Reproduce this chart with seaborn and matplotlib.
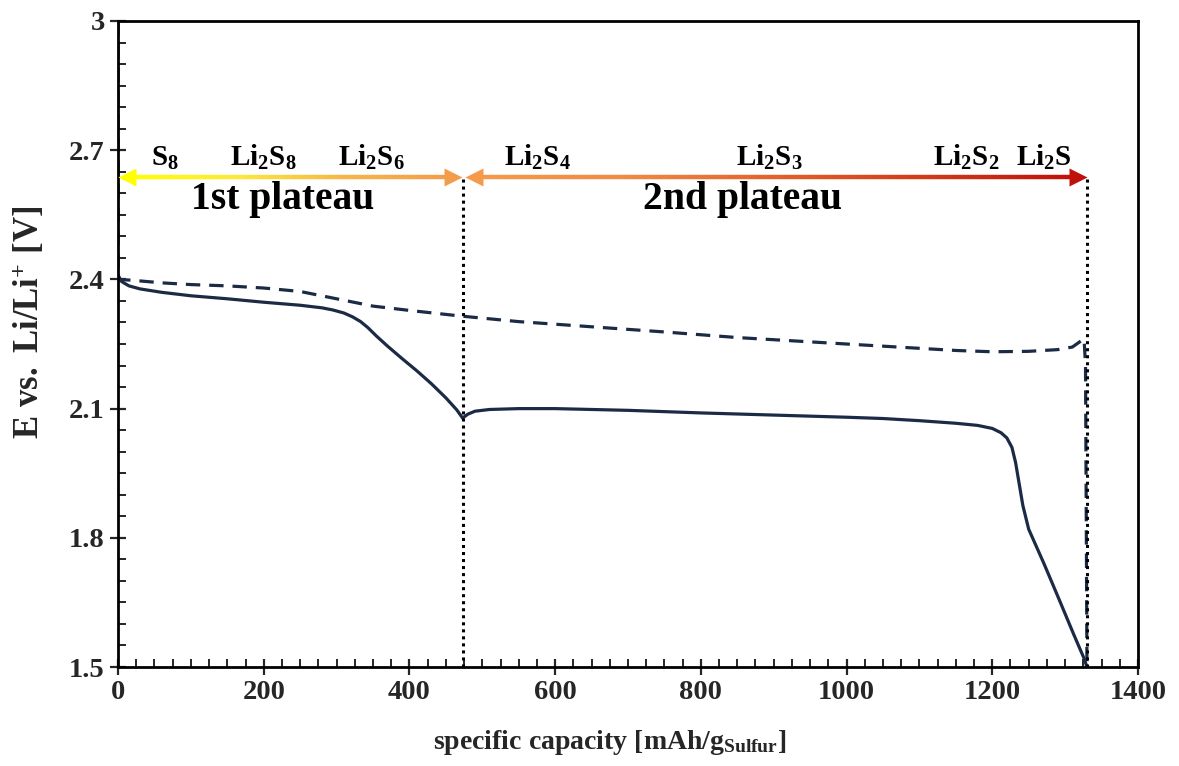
import numpy as np
import pandas as pd
import matplotlib
matplotlib.use("Agg")
import matplotlib.pyplot as plt
from matplotlib.collections import LineCollection
from matplotlib.colors import LinearSegmentedColormap
from matplotlib.ticker import MultipleLocator
import seaborn as sns

# Discharge curve (capacity in mAh/g_S, potential in V)
discharge_cap = [0, 5, 15, 30, 60, 100, 150, 200, 250, 280, 295, 310, 322, 333,
                 343, 355, 370, 390, 410, 430, 450, 465, 473, 480, 490, 510, 550,
                 600, 700, 800, 900, 1000, 1050, 1100, 1150, 1180, 1200, 1212,
                 1220, 1227, 1232, 1236, 1242, 1250, 1271, 1291, 1312, 1326, 1330]
discharge_v = [2.41, 2.395, 2.385, 2.378, 2.37, 2.362, 2.355, 2.347, 2.340, 2.334,
               2.329, 2.322, 2.313, 2.302, 2.288, 2.268, 2.245, 2.216, 2.188,
               2.158, 2.125, 2.097, 2.078, 2.087, 2.094, 2.098, 2.100, 2.100,
               2.096, 2.090, 2.085, 2.080, 2.077, 2.072, 2.066, 2.061, 2.054,
               2.044, 2.032, 2.010, 1.975, 1.935, 1.875, 1.82, 1.74, 1.66, 1.575,
               1.52, 1.50]

# Charge curve, drawn on the same capacity axis
charge_cap = [0, 0, 20, 60, 100, 150, 200, 250, 300, 350, 400, 470, 550, 650, 750,
              850, 950, 1050, 1150, 1200, 1250, 1290, 1310, 1320, 1326, 1328, 1330]
charge_v = [3.0, 2.40, 2.398, 2.392, 2.388, 2.385, 2.38, 2.372, 2.355, 2.338, 2.328,
            2.315, 2.302, 2.290, 2.278, 2.265, 2.255, 2.245, 2.235, 2.232, 2.233,
            2.237, 2.243, 2.255, 2.262, 2.20, 1.50]

# Plateau boundaries and species labels
plateau_ends = [473, 1330]
species = [r"$\mathbf{S_8}$", r"$\mathbf{Li_2S_8}$", r"$\mathbf{Li_2S_6}$",
           r"$\mathbf{Li_2S_4}$", r"$\mathbf{Li_2S_3}$", r"$\mathbf{Li_2S_2}$",
           r"$\mathbf{Li_2S}$"]
species_pos = [65, 200, 348, 575, 894, 1164, 1271]
plateau_names = ["1st plateau", "2nd plateau"]
plateau_pos = [226, 857]

sns.set_style("white")
plt.rcParams["font.family"] = ["Liberation Serif", "DejaVu Serif"]
plt.rcParams["mathtext.fontset"] = "custom"
plt.rcParams["mathtext.rm"] = "Liberation Serif:bold"
plt.rcParams["mathtext.bf"] = "Liberation Serif:bold"
plt.rcParams["mathtext.it"] = "Liberation Serif:bold:italic"

fig = plt.figure(figsize=(11.79, 7.66), dpi=100)
ax = fig.add_axes([0.1001, 0.1292, 0.8651, 0.8434])

line_col = "#1b2b45"
dis = pd.DataFrame({"cap": discharge_cap, "v": discharge_v})
chg = pd.DataFrame({"cap": charge_cap, "v": charge_v})
sns.lineplot(data=dis, x="cap", y="v", ax=ax, color=line_col, lw=2.3, sort=False,
             estimator=None)
sns.lineplot(data=chg, x="cap", y="v", ax=ax, color=line_col, lw=2.3, sort=False,
             estimator=None, dashes=False)
ax.lines[-1].set_dashes([4.5, 2.8])

# Plateau boundaries
for xe in plateau_ends:
    ax.plot([xe, xe], [1.5, 2.64], color="black", lw=2.2, ls=(0, (1, 1.3)),
            zorder=3)

# Gradient arrows
y_arrow = 2.637
arrows = [
    (6, 466, ["#ffff00", "#fde93a", "#f7b548", "#f39c4b"]),
    (483, 1324, ["#f59a4a", "#ef8a42", "#e2612c", "#d03a1a", "#c0100a"]),
]
for x0, x1, cols in arrows:
    cmap = LinearSegmentedColormap.from_list("grad", cols)
    xs = np.linspace(x0 + 8, x1 - 8, 300)
    pts = np.array([xs, np.full_like(xs, y_arrow)]).T.reshape(-1, 1, 2)
    segs = np.concatenate([pts[:-1], pts[1:]], axis=1)
    lc = LineCollection(segs, colors=cmap(np.linspace(0, 1, len(segs))), lw=3.2,
                        capstyle="butt", zorder=4)
    ax.add_collection(lc)
    ax.plot([x0 + 6], [y_arrow], marker="<", ms=13, color=cmap(0.0), mec="none",
            zorder=5)
    ax.plot([x1 - 6], [y_arrow], marker=">", ms=13, color=cmap(1.0), mec="none",
            zorder=5)

for s, xp in zip(species, species_pos):
    ax.text(xp, 2.65, s, ha="center", va="bottom", fontsize=21, color="black")
for name, xp in zip(plateau_names, plateau_pos):
    ax.text(xp, 2.585, name, ha="center", va="center", fontsize=28.5,
            fontweight="bold", color="black")

ax.set_xlim(0, 1400)
ax.set_ylim(1.5, 3.0)
ax.xaxis.set_major_locator(MultipleLocator(200))
ax.xaxis.set_minor_locator(MultipleLocator(25))
ax.yaxis.set_minor_locator(MultipleLocator(0.05))
ax.set_yticks([1.5, 1.8, 2.1, 2.4, 2.7, 3.0])
ax.set_yticklabels(["1.5", "1.8", "2.1", "2.4", "2.7", "3"])
ax.tick_params(which="major", direction="inout", length=11, width=1.6,
               labelsize=20.5, pad=4)
ax.tick_params(which="minor", direction="in", length=6, width=1.4)
ax.tick_params(axis="both", which="both", bottom=True, left=True, top=False,
               right=False)
for lab in ax.get_xticklabels() + ax.get_yticklabels():
    lab.set_fontweight("bold")

for sp in ax.spines.values():
    sp.set_color("black")
    sp.set_linewidth(2.0)

ax.set_xlabel(r"$\mathbf{specific\ capacity\ [mAh/g_{Sulfur}]}$", fontsize=20)
ax.set_ylabel(r"$\mathbf{E\ vs.\ Li/Li^{+}\ [V]}$", fontsize=25)
ax.xaxis.set_label_coords(0.482, -0.094)
ax.yaxis.set_label_coords(-0.07, 0.534)

fig.savefig("out.png", dpi=100, facecolor="white")
